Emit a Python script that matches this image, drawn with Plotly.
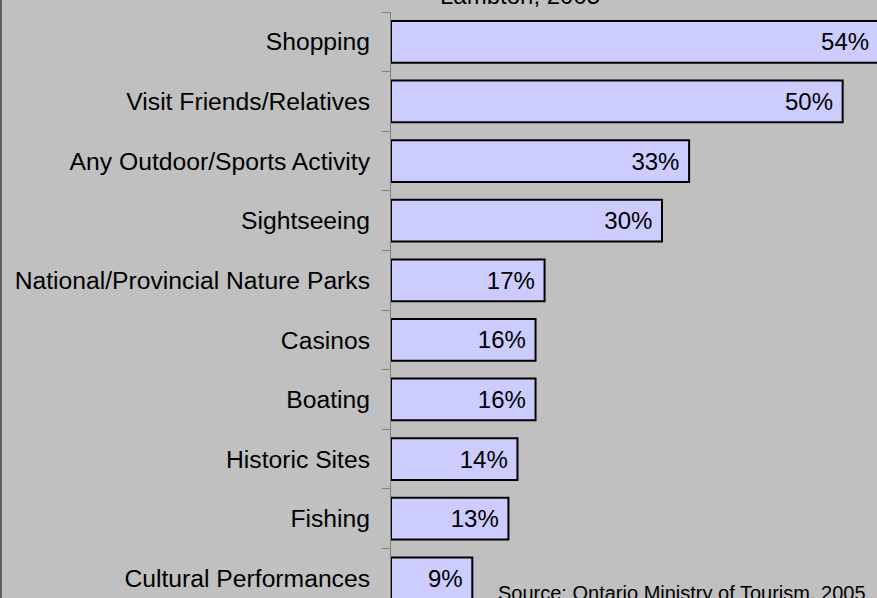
import plotly.graph_objects as go

categories = ["Shopping", "Visit Friends/Relatives", "Any Outdoor/Sports Activity",
              "Sightseeing", "National/Provincial Nature Parks", "Casinos", "Boating",
              "Historic Sites", "Fishing", "Cultural Performances"]
values = [54, 50, 33, 30, 17, 16, 16, 14, 13, 9]
labels = [f"{v}%\u00a0" for v in values]

FONT = "Arial, Liberation Sans, sans-serif"
BG = "#C0C0C0"

fig = go.Figure(go.Bar(
    x=values, y=categories, orientation="h",
    width=0.7,
    marker=dict(color="#CCCCFF", line=dict(color="black", width=2)),
    text=labels, textposition="inside", insidetextanchor="end",
    textfont=dict(family=FONT, size=24, color="black"),
    cliponaxis=True,
))

fig.update_layout(
    width=877, height=598,
    paper_bgcolor=BG, plot_bgcolor=BG,
    margin=dict(l=391, r=0, t=12, b=0),
    showlegend=False,
    font=dict(family=FONT, size=24, color="black"),
    xaxis=dict(range=[0, 53.8], visible=False, showgrid=False, zeroline=False),
    yaxis=dict(
        type="category", categoryorder="array", categoryarray=categories,
        range=[9.33, -0.5], tickson="boundaries",
        ticks="outside", ticklen=8, tickcolor="#808080", tickwidth=1,
        showline=True, linecolor="#808080", linewidth=1,
        showgrid=False, zeroline=False,
        tickfont=dict(family=FONT, size=24.7, color="black"),
        ticklabelstandoff=15,
    ),
    annotations=[
        dict(text="Lambton, 2005", xref="paper", yref="paper",
             x=(520 - 391) / 486, y=1 + 12 / 586, xanchor="center", yanchor="middle",
             yshift=4, showarrow=False,
             font=dict(family=FONT, size=24, color="black")),
        dict(text="Source: Ontario Ministry of Tourism, 2005", xref="paper", yref="paper",
             x=(496 - 391) / 486, y=0, xanchor="left", yanchor="middle",
             yshift=5, showarrow=False,
             font=dict(family=FONT, size=20, color="black")),
    ],
    shapes=[
        dict(type="line", xref="paper", yref="paper",
             x0=-390 / 486, x1=-390 / 486, y0=-0.05, y1=1.05,
             line=dict(color="#606060", width=2)),
    ],
)

fig.write_html("out.html", config={"displayModeBar": False},
               post_script="document.body.style.margin='0';document.body.style.overflow='hidden';")
